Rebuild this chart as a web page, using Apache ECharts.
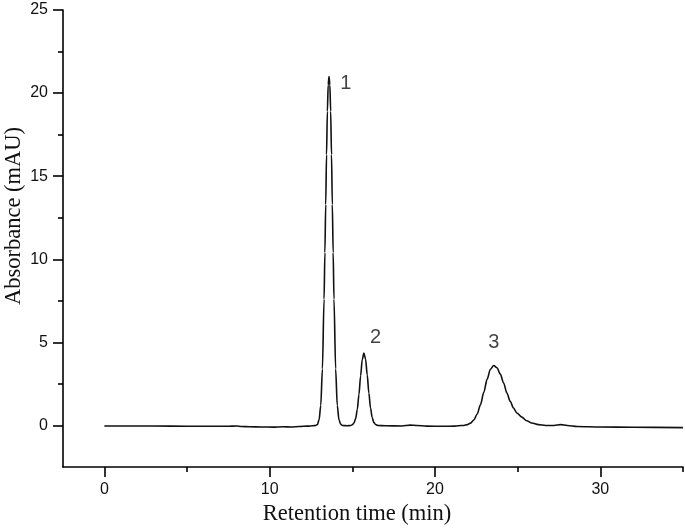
<!DOCTYPE html>
<html>
<head>
<meta charset="utf-8">
<script src="https://cdn.jsdelivr.net/npm/echarts@6/dist/echarts.min.js"></script>
<style>
html,body{margin:0;padding:0;background:#fff;}
#chart{width:685px;height:529px;}
</style>
</head>
<body>
<div id="chart"></div>
<script>
// Retention time (min)
const times = [0, 2, 4, 6, 7.5, 8.0, 8.3, 8.8, 9.5, 10.2, 10.8, 11.3, 11.8, 12.3, 12.6,
  12.79, 12.89, 12.99, 13.09, 13.19, 13.29, 13.34, 13.39, 13.44, 13.49, 13.54, 13.59,
  13.64, 13.69, 13.74, 13.79, 13.84, 13.89, 13.99, 14.09, 14.19, 14.29, 14.4, 14.7,
  14.9, 15.0, 15.1, 15.2, 15.3, 15.4, 15.5, 15.6, 15.7, 15.8, 15.9, 16.0, 16.1, 16.2, 16.3, 16.4, 16.55,
  17, 18, 18.5, 18.9, 19.5, 20.5, 21.2, 21.6,
  21.75, 21.95, 22.15, 22.35, 22.55, 22.75, 22.95, 23.15, 23.35, 23.55,
  23.75, 23.95, 24.15, 24.35, 24.55, 24.75, 24.95, 25.25, 25.55, 25.85, 26.25, 26.7,
  27.2, 27.6, 28.0, 28.6, 30, 32, 35];
// Absorbance (mAU)
const absorbance = [-0.03, -0.03, -0.04, -0.05, -0.05, -0.03, -0.06, -0.08, -0.09, -0.1, -0.08, -0.09, -0.06, -0.04, -0.02,
  0.0, 0.06, 0.35, 1.2, 3.4, 7.6, 10.4, 13.3, 16.3, 18.9, 20.5, 21.0,
  20.5, 18.9, 16.3, 13.3, 10.4, 7.6, 3.4, 1.2, 0.35, 0.08, 0.0, -0.02,
  0.0, 0.04, 0.15, 0.41, 0.96, 1.86, 2.98, 3.97, 4.35, 4.0, 3.05, 1.95, 1.05, 0.48, 0.18, 0.06, 0.0,
  -0.02, -0.03, 0.02, 0.0, -0.04, -0.05, -0.04, 0.0,
  0.0, 0.05, 0.14, 0.33, 0.69, 1.25, 1.99, 2.77, 3.38, 3.61,
  3.47, 3.09, 2.55, 1.95, 1.45, 1.05, 0.75, 0.5, 0.28, 0.15, 0.05, 0.0,
  0.0, 0.05, 0.0, -0.06, -0.09, -0.11, -0.13];

// Peak annotations
const peakNames = ['1', '2', '3'];
const peakLabelTimes = [14.6, 16.4, 23.55];
const peakLabelValues = [20.6, 5.3, 5.0];

// Axis ticks
const xMajorTicks = [0, 10, 20, 30];
const xMinorTicks = [5, 15, 25, 35];
const yMajorTicks = [0, 5, 10, 15, 20, 25];
const yMinorTicks = [2.5, 7.5, 12.5, 17.5, 22.5];

const xTitle = 'Retention time (min)';
const yTitle = 'Absorbance (mAU)';

const chart = echarts.init(document.getElementById('chart'), null, {renderer: 'canvas'});
const lineData = times.map((t, i) => [t, absorbance[i]]);
const labelData = peakNames.map((n, i) => ({value: [peakLabelTimes[i], peakLabelValues[i]], name: n}));

const axisFontSans = 'Liberation Sans, Arial, sans-serif';
const axisFontSerif = 'Liberation Serif, Times New Roman, serif';

const option = {
  backgroundColor: '#fff',
  animation: false,
  grid: {left: 63, right: 2, top: 10, bottom: 62, containLabel: false, outerBoundsMode: 'none'},
  graphic: [{
    type: 'text',
    x: 14, y: 216,
    rotation: Math.PI / 2,
    style: {text: yTitle, fontSize: 22.5, fill: '#111', fontFamily: axisFontSerif, align: 'center', verticalAlign: 'middle'}
  }],
  xAxis: [{
    type: 'value', min: -2.5, max: 35,
    axisLine: {show: true, onZero: false, lineStyle: {color: '#000', width: 1.6}},
    axisTick: {show: true, inside: false, length: 10, customValues: xMajorTicks, lineStyle: {color: '#000', width: 1.6}},
    axisLabel: {show: true, customValues: xMajorTicks, margin: 15, color: '#111', fontSize: 16, fontFamily: axisFontSans},
    splitLine: {show: false},
    name: xTitle, nameLocation: 'middle', nameGap: 36,
    nameTextStyle: {fontSize: 22.5, color: '#111', fontFamily: axisFontSerif, padding: [0, 32, 0, 0]}
  }, {
    type: 'value', min: -2.5, max: 35, position: 'bottom',
    axisLine: {show: false, onZero: false},
    axisTick: {show: true, inside: false, length: 5, customValues: xMinorTicks, lineStyle: {color: '#000', width: 1.6}},
    axisLabel: {show: false},
    splitLine: {show: false}
  }],
  yAxis: [{
    type: 'value', min: -2.5, max: 25,
    axisLine: {show: true, onZero: false, lineStyle: {color: '#000', width: 1.6}},
    axisTick: {show: true, inside: false, length: 10, customValues: yMajorTicks, lineStyle: {color: '#000', width: 1.6}},
    axisLabel: {show: true, customValues: yMajorTicks, margin: 15, color: '#111', fontSize: 16, fontFamily: axisFontSans},
    splitLine: {show: false}
  }, {
    type: 'value', min: -2.5, max: 25, position: 'left',
    axisLine: {show: false, onZero: false},
    axisTick: {show: true, inside: false, length: 5, customValues: yMinorTicks, lineStyle: {color: '#000', width: 1.6}},
    axisLabel: {show: false},
    splitLine: {show: false}
  }],
  series: [{
    type: 'line',
    xAxisIndex: 0, yAxisIndex: 0,
    data: lineData,
    showSymbol: false,
    smooth: 0.3,
    smoothMonotone: 'x',
    lineStyle: {color: '#111', width: 1.6},
    z: 3
  }, {
    type: 'scatter',
    xAxisIndex: 0, yAxisIndex: 0,
    data: labelData,
    symbolSize: 0,
    label: {show: true, position: 'inside', formatter: '{b}', color: '#111', fontSize: 20, fontFamily: axisFontSans},
    z: 4
  }]
};
chart.setOption(option);
</script>
</body>
</html>
